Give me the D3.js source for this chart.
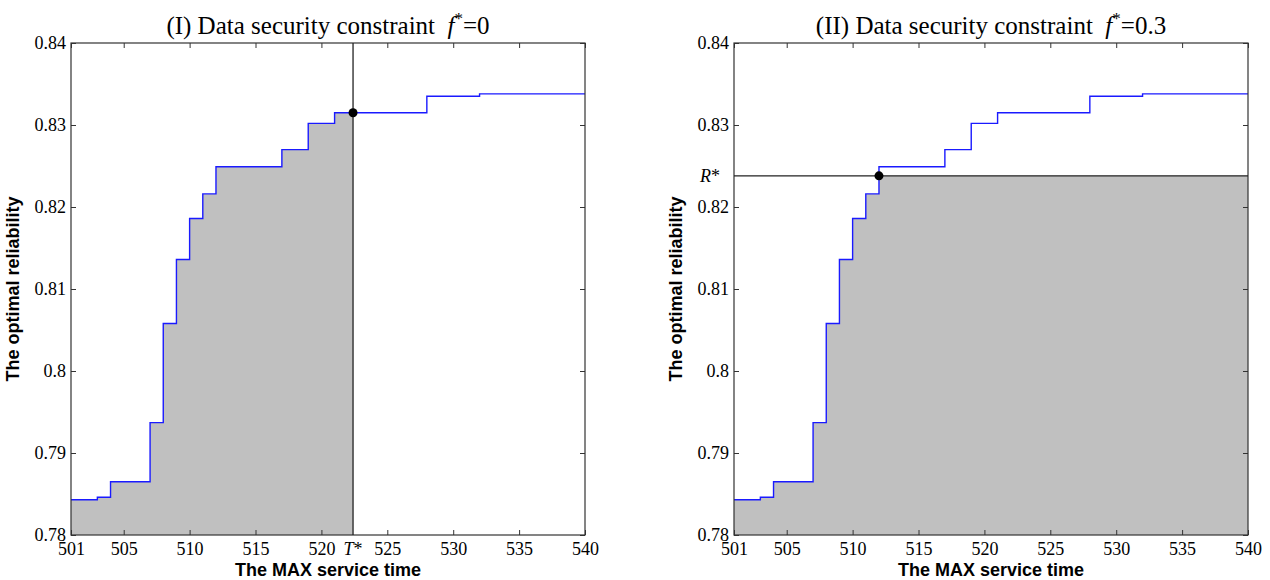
<!DOCTYPE html>
<html>
<head>
<meta charset="utf-8">
<script src="https://cdn.jsdelivr.net/npm/d3@7"></script>
<style>
  html, body { margin: 0; padding: 0; background: #fff; }
  svg { display: block; }
</style>
</head>
<body>
<svg id="chart" width="1270" height="580"></svg>
<script>
// ---------------- data ----------------
const stepTimes = [501, 503, 504, 507, 508, 509, 510, 511, 512, 517, 519, 521, 528, 532, 540];
const reliability = [0.7843, 0.7846, 0.7865, 0.7937, 0.8058, 0.8136, 0.8186, 0.8216, 0.8249, 0.8270, 0.8302, 0.8315, 0.8335, 0.8338, 0.8338];
const xTickValues = [501, 505, 510, 515, 520, 525, 530, 535, 540];
const xTickLabels = ["501", "505", "510", "515", "520", "525", "530", "535", "540"];
const yTickValues = [0.78, 0.79, 0.80, 0.81, 0.82, 0.83, 0.84];
const yTickLabels = ["0.78", "0.79", "0.8", "0.81", "0.82", "0.83", "0.84"];
const panelTitles = ["(I) Data security constraint ", "(II) Data security constraint "];
const panelF = ["0", "0.3"];
const Tstar = 522.4;      // panel I optimum service time
const TstarValue = 0.8315;
const Rstar = 0.8238;     // panel II reliability threshold
const RstarTime = 512;
const xLabel = "The MAX service time";
const yLabel = "The optimal reliability";

const data = stepTimes.map((t, i) => ({ t, r: reliability[i] }));

// ---------------- layout ----------------
const svg = d3.select("#chart");
const panels = [
  { left: 71, right: 585, top: 43, bottom: 535 },
  { left: 734, right: 1248, top: 43, bottom: 535 }
];
const serif = "'Liberation Serif', 'Times New Roman', serif";
const sans = "'Liberation Sans', Arial, sans-serif";
const axisColor = "#333";
const tickFont = 18;

panels.forEach((p, idx) => {
  const x = d3.scaleLinear().domain([501, 540]).range([p.left, p.right]);
  const y = d3.scaleLinear().domain([0.78, 0.84]).range([p.bottom, p.top]);
  const g = svg.append("g");

  // fill
  const area = d3.area().curve(d3.curveStepAfter)
    .x(d => x(d.t)).y0(y(0.78));
  if (idx === 0) {
    const clipId = "clipT";
    svg.append("clipPath").attr("id", clipId)
      .append("rect").attr("x", x(501)).attr("y", p.top)
      .attr("width", x(Tstar) - x(501)).attr("height", p.bottom - p.top);
    g.append("path").datum(data)
      .attr("clip-path", `url(#${clipId})`)
      .attr("fill", "#c0c0c0")
      .attr("d", area.y1(d => y(d.r)));
  } else {
    g.append("path").datum(data)
      .attr("fill", "#c0c0c0")
      .attr("d", area.y1(d => y(Math.min(d.r, Rstar))));
  }

  // step line
  g.append("path").datum(data)
    .attr("fill", "none")
    .attr("stroke", "#1a1aff")
    .attr("stroke-width", 1.4)
    .attr("d", d3.line().curve(d3.curveStepAfter).x(d => x(d.t)).y(d => y(d.r)));

  // axes
  const fmtX = d => xTickLabels[xTickValues.indexOf(d)];
  const fmtY = d => yTickLabels[yTickValues.indexOf(d)];
  const axB = g.append("g").attr("transform", `translate(0,${p.bottom})`)
    .call(d3.axisBottom(x).tickValues(xTickValues).tickFormat(fmtX).tickSizeInner(-5).tickSizeOuter(0).tickPadding(7));
  const axT = g.append("g").attr("transform", `translate(0,${p.top})`)
    .call(d3.axisTop(x).tickValues(xTickValues).tickFormat("").tickSizeInner(-5).tickSizeOuter(0));
  const axL = g.append("g").attr("transform", `translate(${p.left},0)`)
    .call(d3.axisLeft(y).tickValues(yTickValues).tickFormat(fmtY).tickSizeInner(-5).tickSizeOuter(0).tickPadding(5));
  const axR = g.append("g").attr("transform", `translate(${p.right},0)`)
    .call(d3.axisRight(y).tickValues(yTickValues).tickFormat("").tickSizeInner(-5).tickSizeOuter(0));
  [axB, axT, axL, axR].forEach(a => {
    a.select(".domain").remove();
    a.selectAll("line").attr("stroke", axisColor).attr("stroke-width", 1);
    a.selectAll("text").attr("font-family", serif).attr("font-size", tickFont).attr("fill", "#000");
  });
  // box
  g.append("rect")
    .attr("x", p.left).attr("y", p.top)
    .attr("width", p.right - p.left).attr("height", p.bottom - p.top)
    .attr("fill", "none").attr("stroke", axisColor).attr("stroke-width", 1.2);

  // markers
  if (idx === 0) {
    g.append("line")
      .attr("x1", x(Tstar)).attr("x2", x(Tstar))
      .attr("y1", y(0.78)).attr("y2", y(0.84))
      .attr("stroke", "#222").attr("stroke-width", 1.3);
    g.append("circle").attr("cx", x(Tstar)).attr("cy", y(TstarValue)).attr("r", 4.5).attr("fill", "#000");
    const tt = g.append("text")
      .attr("x", x(Tstar)).attr("y", p.bottom + 7).attr("dy", "0.71em")
      .attr("text-anchor", "middle")
      .attr("font-family", serif).attr("font-size", tickFont).attr("font-style", "italic");
    tt.append("tspan").text("T");
    tt.append("tspan").text("*").attr("font-style", "normal");
  } else {
    g.append("line")
      .attr("x1", x(501)).attr("x2", x(540))
      .attr("y1", y(Rstar)).attr("y2", y(Rstar))
      .attr("stroke", "#222").attr("stroke-width", 1.3);
    g.append("circle").attr("cx", x(RstarTime)).attr("cy", y(Rstar)).attr("r", 4.5).attr("fill", "#000");
    const rt = g.append("text")
      .attr("x", p.left - 14).attr("y", y(Rstar)).attr("dy", "0.32em")
      .attr("text-anchor", "end")
      .attr("font-family", serif).attr("font-size", tickFont).attr("font-style", "italic");
    rt.append("tspan").text("R");
    rt.append("tspan").text("*").attr("font-style", "normal");
  }

  // title
  const cx = (p.left + p.right) / 2;
  const title = g.append("text")
    .attr("x", cx).attr("y", 34)
    .attr("text-anchor", "middle")
    .attr("font-family", serif).attr("font-size", 25).attr("fill", "#000")
    .attr("xml:space", "preserve");
  title.append("tspan").text(panelTitles[idx] + " ");
  title.append("tspan").text("f").attr("font-style", "italic");
  title.append("tspan").text("*").attr("font-size", 17).attr("dy", -10);
  title.append("tspan").text("=" + panelF[idx]).attr("dy", 10);

  // axis labels
  g.append("text")
    .attr("x", cx).attr("y", 576)
    .attr("text-anchor", "middle")
    .attr("font-family", sans).attr("font-weight", "bold").attr("font-size", 18)
    .text(xLabel);
  g.append("text")
    .attr("transform", `translate(${p.left - 52},${(p.top + p.bottom) / 2}) rotate(-90)`)
    .attr("text-anchor", "middle")
    .attr("font-family", sans).attr("font-weight", "bold").attr("font-size", 18)
    .text(yLabel);
});
</script>
</body>
</html>
